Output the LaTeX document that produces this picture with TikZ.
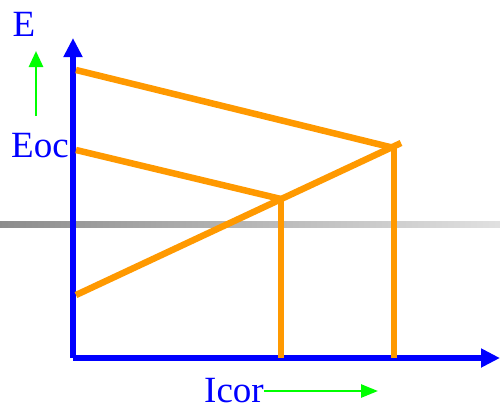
\documentclass[tikz,border=0pt]{standalone}
\usepackage{fontspec}
\setmainfont{Liberation Serif}
\usepackage{tikz}
\usetikzlibrary{arrows.meta,calc,positioning}
\definecolor{axiscol}{HTML}{0000FF}
\definecolor{curvecol}{HTML}{FF9900}
\definecolor{hintcol}{HTML}{00FF00}
\tikzset{
  axis/.style={axiscol,line width=6.5pt,-{Triangle[length=19pt,width=18pt]}},
  curve/.style={curvecol,line width=6.5pt},
  hint/.style={hintcol,line width=2.7pt,-{Triangle[length=16pt,width=14pt]}},
  lbl/.style={text=axiscol,font=\fontsize{37}{40}\selectfont,inner sep=0pt},
}

\begin{document}
\begin{tikzpicture}[x=1pt,y=-1pt]
  \useasboundingbox (0,0) rectangle (500,410);
  % gray level line
  \shade[left color=black!45,right color=black!12] (0,221) rectangle (500,227);
  % axes
  \coordinate (o) at (73,358);
  \coordinate (ytop) at (73,38);
  \coordinate (xend) at (500,358);
  \draw[axis] (o) -- (ytop);
  \draw[axis] (o) -- (xend);
  % labels
  \node[lbl] (e) at (24,24) {E};
  \node[lbl] (eoc) at (40,146) {Eoc};
  \node[lbl] (icor) at (234,391) {Icor};
  % green hints
  \coordinate (up0) at (36,116);
  \coordinate (up1) at (36,51);
  \draw[hint] (up0) -- (up1);
  \coordinate (rt1) at (378,391);
  \draw[hint,-{Triangle[length=17pt,width=13pt]}] (icor.east) -- (rt1);
  % orange lines
  \coordinate (a1) at (76,70);
  \coordinate (b1) at (394,148);
  \coordinate (a2) at (76,150);
  \coordinate (b2) at (281,199);
  \coordinate (c0) at (76,295);
  \coordinate (c1) at (401,143);
  \coordinate (f1) at (281,358);
  \coordinate (f2) at (394,358);
  \draw[curve] (a1) -- (b1);
  \draw[curve] (a2) -- (b2);
  \draw[curve] (c0) -- (c1);
  \draw[curve] (b2) -- (f1);
  \draw[curve] (b1) -- (f2);
\end{tikzpicture}
\end{document}
